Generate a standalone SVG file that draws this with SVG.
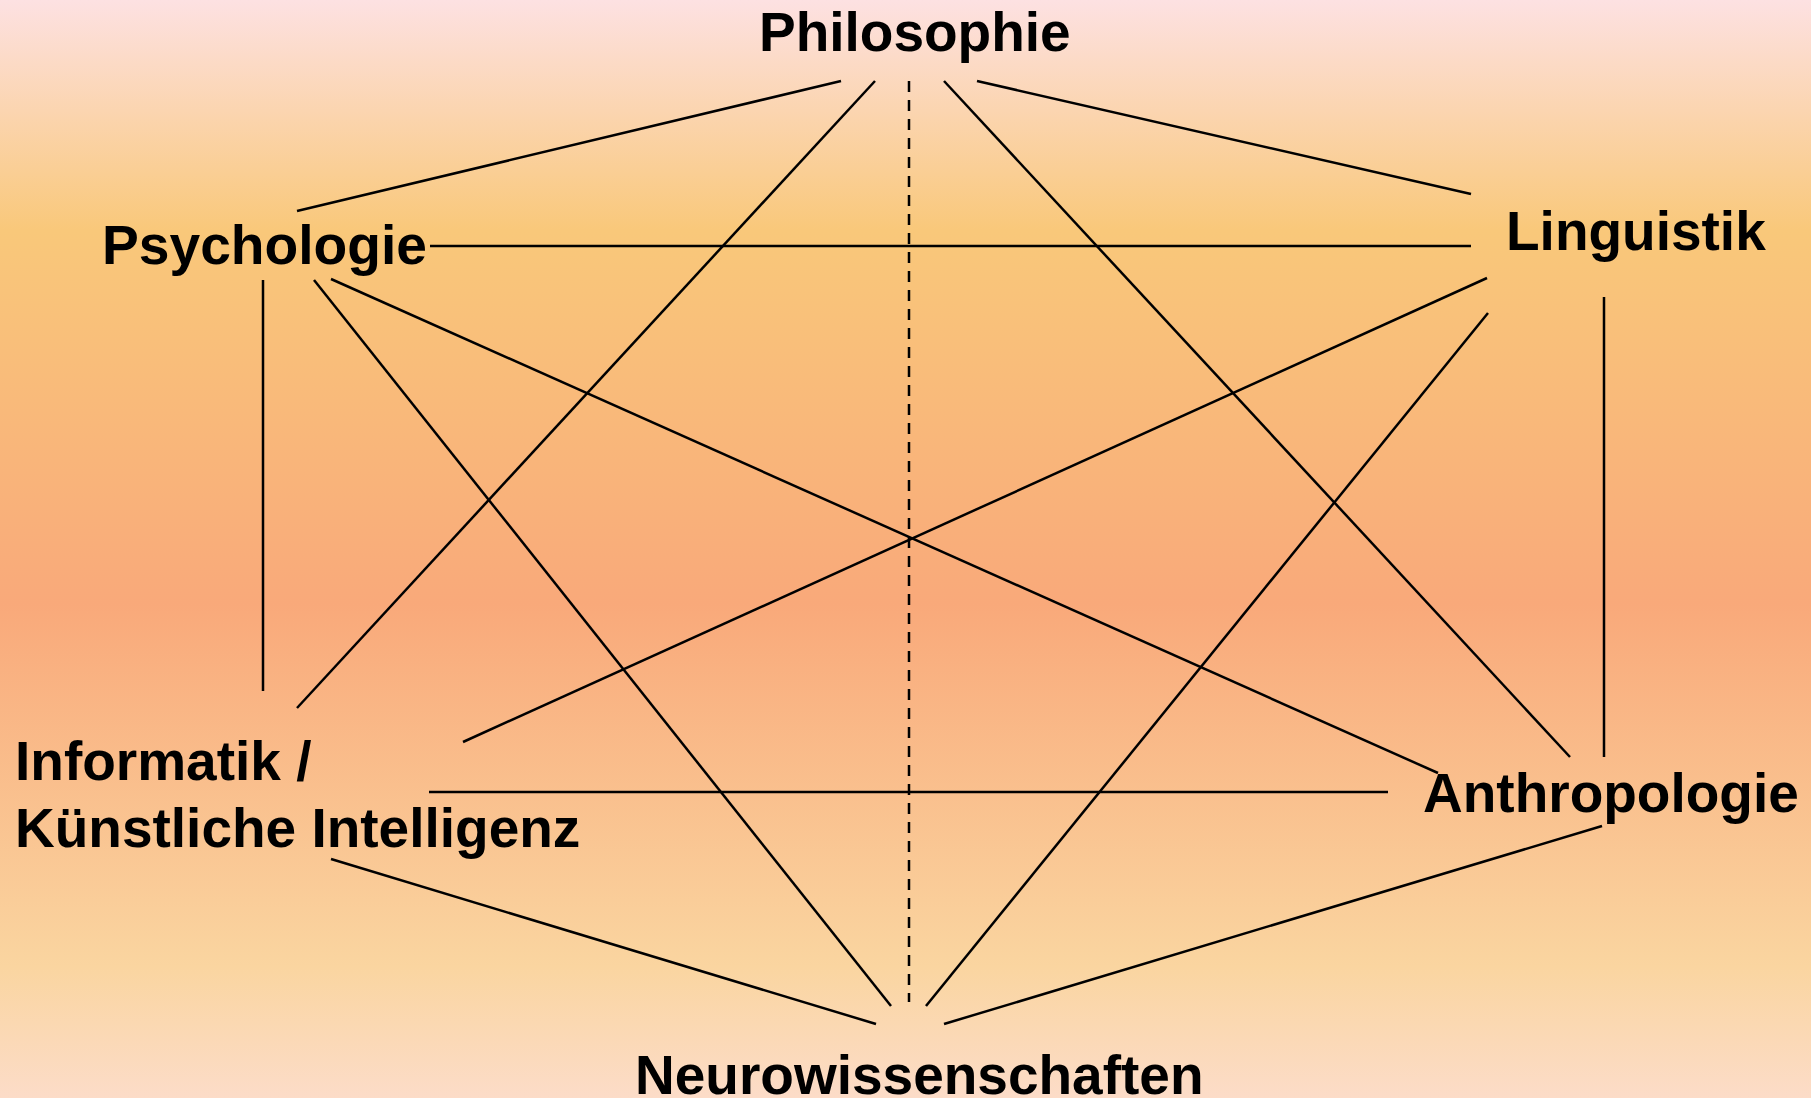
<svg xmlns="http://www.w3.org/2000/svg" width="1811" height="1098" viewBox="0 0 1811 1098">
  <defs>
    <linearGradient id="bg" x1="0" y1="0" x2="0" y2="1">
      <stop offset="0" stop-color="#FDE1E2"/>
      <stop offset="0.21" stop-color="#F9C87A"/>
      <stop offset="0.55" stop-color="#F9A97A"/>
      <stop offset="0.88" stop-color="#FAD5A0"/>
      <stop offset="1" stop-color="#FCDCC8"/>
    </linearGradient>
    <style>
      .lbl { font-family: "Liberation Sans", Arial, sans-serif; font-weight: bold; font-size: 55px; fill: #000; }
      .edge { stroke: #000; stroke-width: 2.5; fill: none; }
      .dash { stroke-dasharray: 11 8; }
    </style>
  </defs>
  <rect x="0" y="0" width="1811" height="1098" fill="url(#bg)"/>
  <g id="connectors">
    <line class="edge" x1="841" y1="81" x2="297" y2="211"/>
    <line class="edge" x1="875" y1="81" x2="297" y2="708"/>
    <line class="edge dash" x1="909" y1="81" x2="909" y2="1002"/>
    <line class="edge" x1="944" y1="81" x2="1570" y2="757"/>
    <line class="edge" x1="977" y1="81" x2="1471" y2="194"/>
    <line class="edge" x1="430" y1="246" x2="1471" y2="246"/>
    <line class="edge" x1="263" y1="280" x2="263" y2="691"/>
    <line class="edge" x1="314" y1="280" x2="891" y2="1006"/>
    <line class="edge" x1="331" y1="279" x2="1438" y2="773"/>
    <line class="edge" x1="1487" y1="278" x2="463" y2="742"/>
    <line class="edge" x1="1488" y1="313" x2="926" y2="1006"/>
    <line class="edge" x1="1604" y1="297" x2="1604" y2="757"/>
    <line class="edge" x1="429" y1="792" x2="1388" y2="792"/>
    <line class="edge" x1="331" y1="859" x2="876" y2="1024"/>
    <line class="edge" x1="1602" y1="826" x2="944" y2="1024"/>
  </g>
  <g id="philosophie"><text class="lbl" x="759" y="51">Philosophie</text></g>
  <g id="psychologie"><text class="lbl" x="102" y="264" textLength="325" lengthAdjust="spacingAndGlyphs">Psychologie</text></g>
  <g id="linguistik"><text class="lbl" x="1506" y="250">Linguistik</text></g>
  <g id="informatik"><text class="lbl" x="15" y="780">Informatik /</text><text class="lbl" x="15" y="847">Künstliche Intelligenz</text></g>
  <g id="anthropologie"><text class="lbl" x="1423" y="812">Anthropologie</text></g>
  <g id="neurowissenschaften"><text class="lbl" x="635" y="1094">Neurowissenschaften</text></g>
</svg>
